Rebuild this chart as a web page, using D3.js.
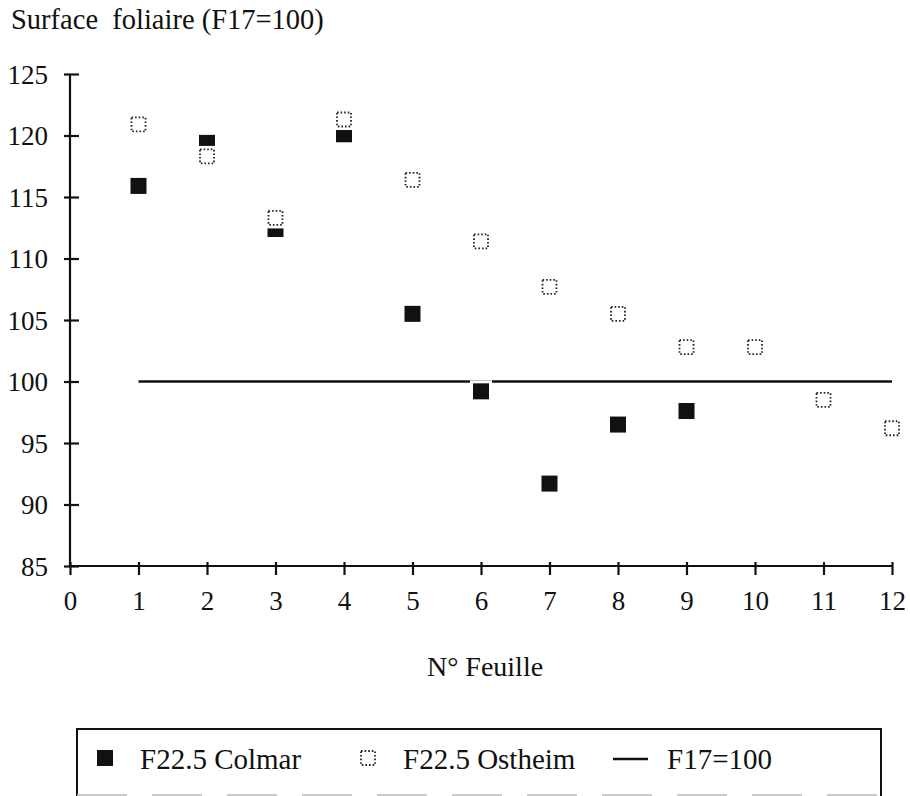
<!DOCTYPE html>
<html><head><meta charset="utf-8">
<script src="https://cdn.jsdelivr.net/npm/d3@7"></script>
<style>
html,body{margin:0;padding:0;background:#fff;}
svg{display:block;}
text{font-family:"Liberation Serif","Times New Roman",serif;fill:#111;white-space:pre;}
</style></head>
<body>
<svg id="c" width="910" height="796"></svg>
<script>
// ---- data ----
const leaves = [1,2,3,4,5,6,7,8,9,10,11,12];
const colmar = [115.9, 119.4, 112.4, 120.1, 105.5, 99.2, 91.7, 96.5, 97.6];
const ostheim = [120.9, 118.3, 113.3, 121.3, 116.4, 111.4, 107.7, 105.5, 102.8, 102.8, 98.5, 96.2];
const reference = [100, 100];
const referenceX = [1, 12];
const xTicks = [0,1,2,3,4,5,6,7,8,9,10,11,12];
const yTicks = [85,90,95,100,105,110,115,120,125];
const seriesNames = ["F22.5 Colmar", "F22.5 Ostheim", "F17=100"];
const yTitle = "Surface  foliaire (F17=100)";
const xTitle = "N° Feuille";

const svg = d3.select("#c");
const FS = 27;
const x = d3.scaleLinear().domain([0,12]).range([70, 892]);
const y = d3.scaleLinear().domain([85,125]).range([566, 74]);

// y title
svg.append("text").attr("x", 11).attr("y", 29).attr("font-size", 28.5)
  .attr("xml:space","preserve").text(yTitle);

// axes
const yAxis = svg.append("g").attr("transform", `translate(${x(0)},0)`)
  .call(d3.axisLeft(y).tickValues(yTicks).tickSize(6).tickFormat(d3.format("d")));
yAxis.select(".domain").attr("d", `M0,${y(125)}V${y(85)}`).attr("stroke","#111").attr("stroke-width",2.2);
yAxis.selectAll(".tick line").attr("x1", 9).attr("x2", -6).attr("stroke","#111").attr("stroke-width",2.2);
yAxis.selectAll(".tick text").attr("x", -22).attr("dy","0.34em")
  .attr("font-size", FS).attr("font-family", '"Liberation Serif",serif').attr("fill","#111");

const xAxis = svg.append("g").attr("transform", `translate(0,${y(85)})`)
  .call(d3.axisBottom(x).tickValues(xTicks).tickSize(9).tickFormat(d3.format("d")));
xAxis.select(".domain").attr("d", `M${x(0)},0H${x(12)}`).attr("stroke","#111").attr("stroke-width",2.2);
xAxis.selectAll(".tick line").attr("y1", -4).attr("y2", 9).attr("stroke","#111").attr("stroke-width",2.2);
xAxis.selectAll(".tick text").attr("y", 44).attr("dy", null)
  .attr("font-size", FS).attr("font-family", '"Liberation Serif",serif').attr("fill","#111");

// x title
svg.append("text").attr("x", 485).attr("y", 676).attr("text-anchor","middle").attr("font-size", 28).text(xTitle);

// reference line
svg.append("path")
  .datum(referenceX.map((d,i)=>[d, reference[i]]))
  .attr("d", d3.line().x(d=>x(d[0])).y(d=>y(d[1])))
  .attr("stroke","#111").attr("stroke-width",2.5).attr("fill","none");

const S = 16, H = 3;
// Colmar (filled squares)
const cg = svg.append("g");
colmar.forEach((v,i)=>{
  const cx = x(leaves[i]), cy = y(v);
  cg.append("rect").attr("x", cx-S/2-H).attr("y", cy-S/2-H).attr("width", S+2*H).attr("height", S+2*H).attr("fill","#fff");
  cg.append("rect").attr("x", cx-S/2).attr("y", cy-S/2).attr("width", S).attr("height", S).attr("fill","#111");
});
// Ostheim (dotted open squares)
const og = svg.append("g");
ostheim.forEach((v,i)=>{
  const cx = x(leaves[i]), cy = y(v);
  og.append("rect").attr("x", cx-S/2-H+0.5).attr("y", cy-S/2-H+0.5).attr("width", S+2*H-1).attr("height", S+2*H-1).attr("fill","#fff");
  og.append("rect").attr("x", cx-S/2+1).attr("y", cy-S/2+1).attr("width", S-2).attr("height", S-2)
    .attr("fill","#fff").attr("stroke","#222").attr("stroke-width",1.8).attr("stroke-dasharray","1.6,2");
});

// legend
const LFS = 29;
const lg = svg.append("g");
lg.append("path").attr("d","M77,796V729H881V796").attr("fill","none").attr("stroke","#111").attr("stroke-width",2);
lg.append("line").attr("x1",77).attr("x2",881).attr("y1",795).attr("y2",795)
  .attr("stroke","#bbb").attr("stroke-width",1.5).attr("stroke-dasharray","50,25");
lg.append("rect").attr("x",97).attr("y",750).attr("width",16).attr("height",16).attr("fill","#111");
lg.append("text").attr("x",140).attr("y",769).attr("font-size",LFS).text(seriesNames[0]);
lg.append("rect").attr("x",361).attr("y",751).attr("width",14).attr("height",14)
  .attr("fill","#fff").attr("stroke","#222").attr("stroke-width",1.8).attr("stroke-dasharray","1.6,2");
lg.append("text").attr("x",403).attr("y",769).attr("font-size",LFS).text(seriesNames[1]);
lg.append("line").attr("x1",613).attr("x2",648).attr("y1",759).attr("y2",759).attr("stroke","#111").attr("stroke-width",2.5);
lg.append("text").attr("x",667).attr("y",769).attr("font-size",LFS).text(seriesNames[2]);
</script>
</body></html>
